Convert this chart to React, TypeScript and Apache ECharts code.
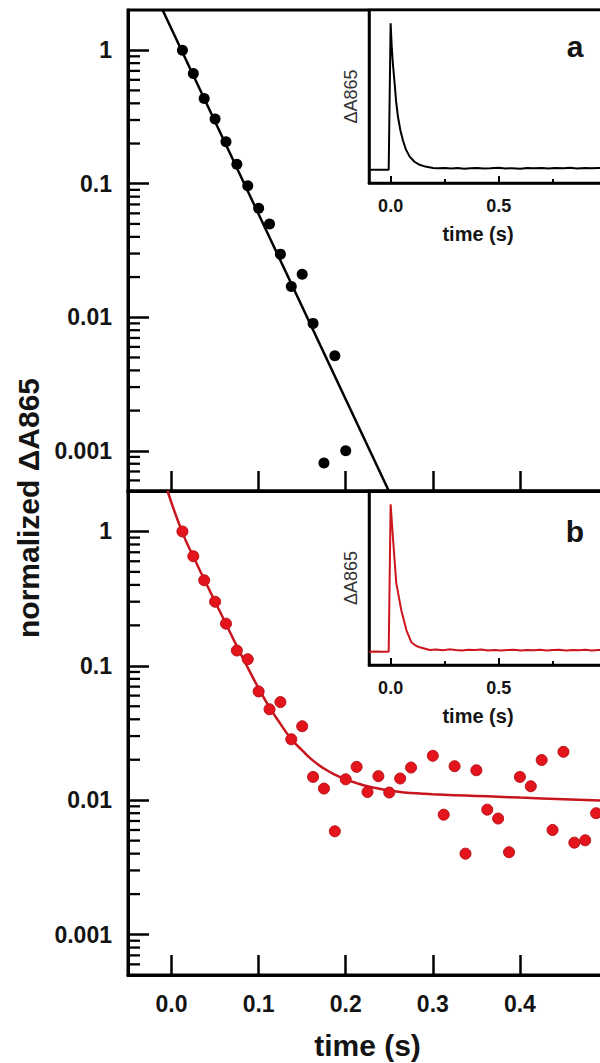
import React, { useEffect, useRef } from 'react';
import * as echarts from 'echarts';

// ---- Panel a (black): normalized ΔA865 decay ----
const timeA = [0.0125, 0.025, 0.0375, 0.05, 0.0625, 0.075, 0.0875, 0.1, 0.1125, 0.125, 0.1375, 0.15, 0.1625, 0.175, 0.1875, 0.2];
const valuesA = [1.0, 0.67, 0.435, 0.305, 0.206, 0.14, 0.0966, 0.0655, 0.05, 0.0297, 0.017, 0.021, 0.009, 0.00081, 0.00515, 0.001];
const fitTimeA = [-0.0103, 0.2495];
const fitValuesA = [2.0, 0.0005];

// ---- Panel b (red) ----
const timeB = [0.0125, 0.025, 0.0375, 0.05, 0.0625, 0.075, 0.0875, 0.1, 0.1125, 0.125, 0.1375, 0.15, 0.1625, 0.175, 0.1875, 0.2, 0.2125, 0.225, 0.2375, 0.25, 0.2625, 0.275, 0.3, 0.3125, 0.325, 0.3375, 0.35, 0.3625, 0.375, 0.3875, 0.4, 0.4125, 0.425, 0.4375, 0.45, 0.4625, 0.475, 0.4875];
const valuesB = [1.0, 0.654, 0.433, 0.3, 0.206, 0.13, 0.112, 0.0645, 0.0475, 0.0537, 0.0284, 0.0355, 0.0149, 0.0122, 0.00587, 0.0143, 0.0177, 0.0115, 0.0151, 0.0114, 0.0145, 0.0175, 0.0214, 0.0078, 0.0179, 0.004, 0.0167, 0.0085, 0.0073, 0.0041, 0.0149, 0.0127, 0.0199, 0.006, 0.0229, 0.00483, 0.00503, 0.008];
const fitTimeB = [-0.0046, 0.0125, 0.025, 0.0375, 0.05, 0.0625, 0.075, 0.0875, 0.1, 0.1125, 0.125, 0.1375, 0.15, 0.1625, 0.175, 0.1875, 0.2, 0.2125, 0.225, 0.2375, 0.25, 0.2625, 0.275, 0.2875, 0.3, 0.325, 0.35, 0.375, 0.4, 0.45, 0.5];
const fitValuesB = [2.0, 0.98, 0.65, 0.44, 0.3, 0.205, 0.14, 0.097, 0.068, 0.049, 0.037, 0.0285, 0.0235, 0.0197, 0.0172, 0.0155, 0.0143, 0.0134, 0.0127, 0.0122, 0.0118, 0.01152, 0.01133, 0.01118, 0.01106, 0.0109, 0.01075, 0.0106, 0.01045, 0.01018, 0.0099];

// ---- Inset traces (arbitrary units) ----
const insetTimeA = [-0.1, -0.07, -0.04, -0.009, 0.0, 0.005, 0.01, 0.0185, 0.025, 0.034, 0.045, 0.057, 0.07, 0.088, 0.11, 0.134, 0.16, 0.196, 0.22, 0.25, 0.28, 0.31, 0.34, 0.37, 0.4, 0.43, 0.46, 0.5, 0.53, 0.56, 0.6, 0.63, 0.66, 0.7, 0.73, 0.76, 0.8, 0.83, 0.86, 0.9, 0.93, 0.96, 1.0];
const insetValueA = [0.0, 0.001, 0.0, 0.0, 1.0, 0.84, 0.73, 0.59, 0.47, 0.36, 0.27, 0.2, 0.14, 0.09, 0.055, 0.034, 0.022, 0.013, 0.01, 0.013, 0.009, 0.012, 0.008, 0.011, 0.013, 0.009, 0.01, 0.014, 0.009, 0.011, 0.008, 0.012, 0.01, 0.013, 0.009, 0.012, 0.01, 0.014, 0.009, 0.012, 0.01, 0.013, 0.011];
const insetTimeB = [-0.1, -0.07, -0.04, -0.009, 0.0, 0.011, 0.026, 0.049, 0.073, 0.096, 0.115, 0.134, 0.16, 0.18, 0.21, 0.24, 0.27, 0.3, 0.33, 0.36, 0.39, 0.42, 0.45, 0.48, 0.51, 0.54, 0.57, 0.6, 0.63, 0.66, 0.69, 0.72, 0.75, 0.78, 0.81, 0.84, 0.87, 0.9, 0.93, 0.96, 1.0];
const insetValueB = [0.0, 0.002, 0.0, 0.0, 1.0, 0.766, 0.467, 0.283, 0.145, 0.064, 0.042, 0.03, 0.02, 0.012, 0.015, 0.01, 0.016, 0.012, 0.009, 0.014, 0.011, 0.015, 0.009, 0.012, 0.008, 0.011, 0.013, 0.009, 0.012, 0.01, 0.014, 0.008, 0.011, 0.013, 0.009, 0.012, 0.01, 0.014, 0.009, 0.012, 0.011];

// ---- Axis ticks and labels ----
const mainXTicks = [0, 0.1, 0.2, 0.3, 0.4];
const insetXMajorTicks = [0, 0.5, 1.0];
const insetXMinorTicks = [0.25, 0.75];
const insetXLabels = [0, 0.5];
const yTickValues = [0.001, 0.01, 0.1, 1];
const yTickLabels = ['0.001', '0.01', '0.1', '1'];
const yMinorTicks = [0.0006, 0.0007, 0.0008, 0.0009, 0.002, 0.003, 0.004, 0.005, 0.006, 0.007, 0.008, 0.009, 0.02, 0.03, 0.04, 0.05, 0.06, 0.07, 0.08, 0.09, 0.2, 0.3, 0.4, 0.5, 0.6, 0.7, 0.8, 0.9];

const X_MIN = -0.05;
const X_MAX = 0.5;
const Y_MIN = 0.0005;
const Y_MAX = 2;

const FONT = '"Liberation Sans", Arial, sans-serif';
const TXT = '#141414';
const RED = '#e3141c';
const RED_LINE = '#c8161e';

const zip = (a: number[], b: number[]) => a.map((v, i) => [v, b[i]]);

export default function App() {
  const ref = useRef<HTMLDivElement>(null);

  useEffect(() => {
    if (!ref.current) return;
    const chart = echarts.init(ref.current, null, { renderer: 'svg' });

    const mainX = (gridIndex: number, withLabels: boolean) => ({
      type: 'value',
      gridIndex,
      position: 'bottom',
      min: X_MIN,
      max: X_MAX,
      axisLine: { show: true, onZero: false, lineStyle: { color: '#000', width: 3 } },
      axisTick: { show: true, inside: true, length: 20, customValues: mainXTicks, lineStyle: { color: '#000', width: 2.5 } },
      axisLabel: withLabels
        ? { show: true, customValues: mainXTicks, formatter: (v: number) => v.toFixed(1), fontSize: 23, fontWeight: 'bold', fontFamily: FONT, color: TXT, margin: 17 }
        : { show: false },
      splitLine: { show: false },
      ...(withLabels
        ? { name: 'time (s)', nameLocation: 'middle', nameGap: 55, nameTextStyle: { fontSize: 30, fontWeight: 'bold', fontFamily: FONT, color: TXT } }
        : {}),
    });

    const mainY = (gridIndex: number) => ({
      type: 'log',
      logBase: 10,
      gridIndex,
      position: 'left',
      min: Y_MIN,
      max: Y_MAX,
      axisLine: { show: true, onZero: false, lineStyle: { color: '#000', width: 3 } },
      axisTick: { show: true, inside: true, length: 21, lineStyle: { color: '#000', width: 2.5 } },
      axisLabel: {
        show: true,
        fontSize: 23,
        fontWeight: 'bold',
        fontFamily: FONT,
        color: TXT,
        margin: 16,
        showMinLabel: false,
        showMaxLabel: false,
        formatter: (v: number) => {
          const i = yTickValues.findIndex((t) => Math.abs(Math.log10(v) - Math.log10(t)) < 1e-6);
          return i >= 0 ? yTickLabels[i] : '';
        },
      },
      splitLine: { show: false },
    });

    const insetX = (gridIndex: number) => ({
      type: 'value',
      gridIndex,
      position: 'bottom',
      min: -0.1,
      max: 1.0,
      axisLine: { show: true, onZero: false, lineStyle: { color: '#000', width: 2.5 } },
      axisTick: { show: true, inside: true, length: 7, customValues: insetXMajorTicks, lineStyle: { color: '#000', width: 2 } },
      axisLabel: { show: true, customValues: insetXLabels, formatter: (v: number) => v.toFixed(1), fontSize: 18, fontWeight: 'bold', fontFamily: FONT, color: TXT, margin: 14 },
      splitLine: { show: false },
    });
    const insetXMinor = (gridIndex: number) => ({
      type: 'value',
      gridIndex,
      position: 'bottom',
      min: -0.1,
      max: 1.0,
      axisLine: { show: false, onZero: false },
      axisTick: { show: true, inside: true, length: 4, customValues: insetXMinorTicks, lineStyle: { color: '#000', width: 2 } },
      axisLabel: { show: false },
      splitLine: { show: false },
    });
    const insetY = (gridIndex: number) => ({
      type: 'value',
      gridIndex,
      position: 'left',
      min: -0.09,
      max: 1.09,
      axisLine: { show: true, onZero: false, lineStyle: { color: '#000', width: 2.5 } },
      axisTick: { show: false },
      axisLabel: { show: false },
      splitLine: { show: false },
      name: 'ΔA865',
      nameLocation: 'middle',
      nameGap: 9,
      nameTextStyle: { fontSize: 18, fontFamily: FONT, color: '#333' },
    });

    // minor ticks of the log axes: y from the axis scale, x anchored on the grid's left edge
    const minorTickSeries = (axisIndex: number) => ({
      type: 'custom',
      xAxisIndex: axisIndex,
      yAxisIndex: axisIndex,
      silent: true,
      clip: false,
      z: 6,
      data: yMinorTicks.map((v) => [0.1, v]),
      renderItem: (params: any, api: any) => {
        const pt = api.coord([api.value(0), api.value(1)]);
        const x0 = params.coordSys.x;
        return {
          type: 'line',
          shape: { x1: x0, y1: pt[1], x2: x0 + 12, y2: pt[1] },
          style: { stroke: '#000', lineWidth: 2.3 },
        };
      },
    });

    chart.setOption({
      animation: false,
      backgroundColor: '#fff',
      grid: [
        { left: 128, right: 13, top: 10, height: 481, show: true, borderColor: '#000', borderWidth: 3 },
        { left: 128, right: 13, top: 491, height: 484, show: true, borderColor: '#000', borderWidth: 3 },
        { left: 369, right: 13, top: 10, height: 173, show: true, borderColor: '#000', borderWidth: 2.5, backgroundColor: '#fff' },
        { left: 369, right: 13, top: 491, height: 174, show: true, borderColor: '#000', borderWidth: 2.5, backgroundColor: '#fff' },
      ],
      xAxis: [mainX(0, false), mainX(1, true), insetX(2), insetXMinor(2), insetX(3), insetXMinor(3)],
      yAxis: [mainY(0), mainY(1), insetY(2), insetY(3)],
      series: [
        {
          type: 'line',
          xAxisIndex: 0,
          yAxisIndex: 0,
          data: zip(fitTimeA, fitValuesA),
          showSymbol: false,
          symbol: 'none',
          lineStyle: { color: '#000', width: 2.5 },
          z: 3,
        },
        {
          type: 'scatter',
          xAxisIndex: 0,
          yAxisIndex: 0,
          data: zip(timeA, valuesA),
          symbolSize: 11,
          itemStyle: { color: '#000', opacity: 1 },
          z: 4,
        },
        {
          type: 'line',
          xAxisIndex: 1,
          yAxisIndex: 1,
          data: zip(fitTimeB, fitValuesB),
          smooth: true,
          showSymbol: false,
          symbol: 'none',
          lineStyle: { color: RED_LINE, width: 2.5 },
          z: 3,
        },
        {
          type: 'scatter',
          xAxisIndex: 1,
          yAxisIndex: 1,
          data: zip(timeB, valuesB),
          symbolSize: 11,
          itemStyle: { color: RED, borderColor: '#b8121a', borderWidth: 1, opacity: 1 },
          z: 4,
        },
        {
          type: 'line',
          xAxisIndex: 2,
          yAxisIndex: 2,
          data: zip(insetTimeA, insetValueA),
          showSymbol: false,
          symbol: 'none',
          lineStyle: { color: '#000', width: 2 },
        },
        {
          type: 'line',
          xAxisIndex: 4,
          yAxisIndex: 3,
          data: zip(insetTimeB, insetValueB),
          showSymbol: false,
          symbol: 'none',
          lineStyle: { color: '#cc161c', width: 2 },
        },
        minorTickSeries(0),
        minorTickSeries(1),
      ],
      graphic: [
        {
          type: 'text',
          x: 28,
          y: 508,
          rotation: Math.PI / 2,
          style: { text: 'normalized ΔA865', fontSize: 30, fontWeight: 'bold', fontFamily: FONT, fill: TXT, align: 'center', verticalAlign: 'middle' },
        },
        {
          type: 'text',
          x: 478,
          y: 234,
          style: { text: 'time (s)', fontSize: 20, fontWeight: 'bold', fontFamily: FONT, fill: TXT, align: 'center', verticalAlign: 'middle' },
        },
        {
          type: 'text',
          x: 478,
          y: 716,
          style: { text: 'time (s)', fontSize: 20, fontWeight: 'bold', fontFamily: FONT, fill: TXT, align: 'center', verticalAlign: 'middle' },
        },
        {
          type: 'text',
          x: 575,
          y: 46,
          style: { text: 'a', fontSize: 30, fontWeight: 'bold', fontFamily: FONT, fill: TXT, align: 'center', verticalAlign: 'middle' },
        },
        {
          type: 'text',
          x: 575,
          y: 531,
          style: { text: 'b', fontSize: 30, fontWeight: 'bold', fontFamily: FONT, fill: TXT, align: 'center', verticalAlign: 'middle' },
        },
      ],
    });

    return () => {
      chart.dispose();
    };
  }, []);

  return (
    <div style={{ position: 'absolute', left: 0, top: 0, width: 600, height: 1063, overflow: 'hidden', background: '#fff' }}>
      <div ref={ref} style={{ width: 620, height: 1063 }} />
    </div>
  );
}
